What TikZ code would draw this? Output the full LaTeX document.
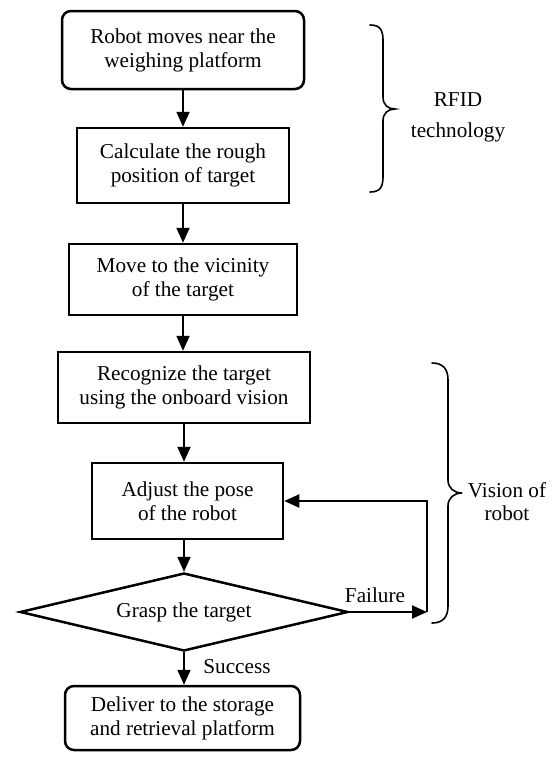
\documentclass[tikz,border=0pt]{standalone}
\usepackage{fontspec}
\setmainfont{Liberation Serif}
\usetikzlibrary{shapes.geometric,arrows.meta}
\begin{document}
\begin{tikzpicture}[x=1pt,y=-1pt,
  every node/.style={font=\fontsize{21.2}{24}\selectfont, align=center, inner sep=0pt},
  boxs/.style={draw, line width=2.5pt, rectangle},
  rbox/.style={boxs, rounded corners=9pt},
  flow/.style={line width=2pt, -{Triangle[length=15pt,width=13pt]}},
  brace/.style={line width=1.6pt, line cap=round}]
\useasboundingbox (0,0) rectangle (555,758);
\node[rbox, minimum width=242pt, minimum height=78pt] (b1) at (183,50) {Robot moves near the\\weighing platform};
\node[boxs, minimum width=212pt, minimum height=75pt] (b2) at (183,165.5) {Calculate the rough\\position of target};
\node[boxs, minimum width=228pt, minimum height=71pt] (b3) at (183,279.5) {Move to the vicinity\\of the target};
\node[boxs, minimum width=252pt, minimum height=71pt] (b4) at (184,387.5) {Recognize the target\\using the onboard vision};
\node[boxs, minimum width=191pt, minimum height=76pt] (b5) at (187.5,501) {Adjust the pose\\of the robot};
\node[draw, diamond, line width=2.5pt, shape aspect=4.2, minimum width=328pt, minimum height=78pt] (d) at (184,612) {Grasp the target};
\node[rbox, minimum width=235pt, minimum height=64pt] (b6) at (182.5,718) {Deliver to the storage\\and retrieval platform};

\draw[flow] (b1.south) -- (b1.south |- b2.north);
\draw[flow] (b2.south) -- (b2.south |- b3.north);
\draw[flow] (b3.south) -- (b3.south |- b4.north);
\draw[flow] (b4.south) -- (b4.south |- b5.north);
\draw[flow] (d.north |- b5.south) -- (d.north);
\draw[flow] (d.south) -- (d.south |- b6.north);

\coordinate (fc) at (427,612);
\draw[flow] (d.east) -- (fc);
\draw[flow] (fc) |- (b5.east);
\node (fail) at (375,595) {Failure};
\node (succ) at (237,667) {Success};

\draw[brace] (370,25) .. controls (380,25) and (383,30) .. (383,40) -- (383,97)
  .. controls (383,105) and (388,109) .. (395,109)
  .. controls (388,109) and (383,113) .. (383,121) -- (383,177)
  .. controls (383,187) and (380,192) .. (370,192);
\node[font=\fontsize{21.2}{31}\selectfont] (rfid) at (458,117.5) {RFID\\technology};

\draw[brace] (432,363) .. controls (443,363) and (448,369) .. (448,380) -- (448,480)
  .. controls (448,488) and (454,493) .. (462,493)
  .. controls (454,493) and (448,498) .. (448,506) -- (448,606)
  .. controls (448,617) and (443,623) .. (432,623);
\node[font=\fontsize{21.2}{23}\selectfont] (vis) at (507,501.5) {Vision of\\robot};
\end{tikzpicture}
\end{document}
